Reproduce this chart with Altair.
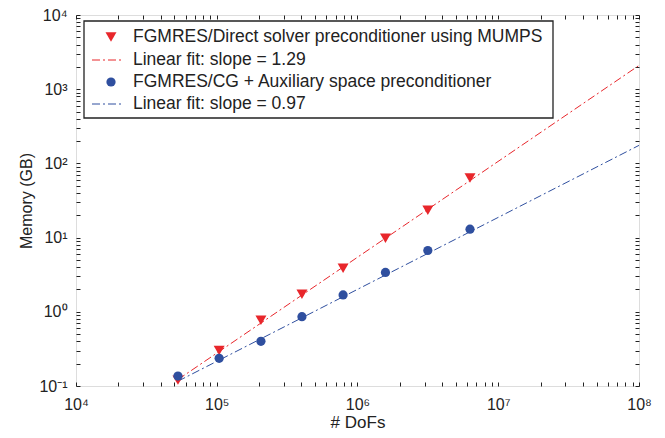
import altair as alt
import pandas as pd

# ---- data ----
dofs = [5.3e4, 1.04e5, 2.06e5, 4.03e5, 7.9e5, 1.58e6, 3.16e6, 6.3e6]
mem_direct = [0.12, 0.30, 0.77, 1.73, 3.87, 9.8, 23.4, 63.5]
mem_ams = [0.136, 0.236, 0.40, 0.86, 1.69, 3.39, 6.7, 13.0]
fit_x = [5.3e4, 1e8]
fit_direct = [0.122, 2090]
fit_ams = [0.116, 175]

series_labels = [
    "FGMRES/Direct solver preconditioner using MUMPS",
    "Linear fit: slope = 1.29",
    "FGMRES/CG + Auxiliary space preconditioner",
    "Linear fit: slope = 0.97",
]
x_ticks = [1e4, 1e5, 1e6, 1e7, 1e8]
x_tick_labels = ["10⁴", "10⁵", "10⁶", "10⁷", "10⁸"]
y_ticks = [0.1, 1, 10, 100, 1000, 10000]
y_tick_labels = ["10⁻¹", "10⁰", "10¹", "10²", "10³", "10⁴"]

RED = "#e8262b"
BLUE = "#2f4f9f"
INK = "#222222"
FONT = "Liberation Sans"
W, H = 563, 371
DASH = [8, 3, 2, 3]

df_direct = pd.DataFrame({"x": dofs, "y": mem_direct})
df_ams = pd.DataFrame({"x": dofs, "y": mem_ams})
df_fit_direct = pd.DataFrame({"x": fit_x, "y": fit_direct})
df_fit_ams = pd.DataFrame({"x": fit_x, "y": fit_ams})

def label_expr(vals, labs):
    expr = "''"
    for v, l in zip(reversed(vals), reversed(labs)):
        expr = f"abs(datum.value - {v!r}) < {v * 1e-6!r} ? '{l}' : ({expr})"
    return expr

xscale = alt.Scale(type="log", domain=[1e4, 1e8], nice=False)
yscale = alt.Scale(type="log", domain=[0.1, 1e4], nice=False)

main_x = alt.Axis(orient="bottom", values=x_ticks, labelExpr=label_expr(x_ticks, x_tick_labels),
                  labelFlush=False, ticks=False, domain=False, grid=False,
                  labelFont=FONT, labelFontSize=16, labelColor=INK, labelPadding=10,
                  title="# DoFs", titleFont=FONT, titleFontSize=17,
                  titleFontWeight="normal", titleColor=INK,
                  titleBaseline="alphabetic", titleY=41)
main_y = alt.Axis(orient="left", values=y_ticks, labelExpr=label_expr(y_ticks, y_tick_labels),
                  labelFlush=False, ticks=False, domain=False, grid=False,
                  labelFont=FONT, labelFontSize=16, labelColor=INK, labelPadding=9,
                  title="Memory (GB)", titleFont=FONT, titleFontSize=16,
                  titleFontWeight="normal", titleColor=INK,
                  titleBaseline="alphabetic", titleX=-45)

def tick_axis(orient, offset):
    # an axis moved across the plot so that its ticks point inward
    return alt.Axis(orient=orient, offset=offset, labels=False, title=None,
                    domain=False, grid=False, tickSize=4, tickCount=30,
                    tickColor=INK, tickWidth=1)

fit_r = alt.Chart(df_fit_direct).mark_line(color=RED, strokeWidth=1, strokeDash=DASH).encode(
    x=alt.X("x:Q", scale=xscale, axis=main_x),
    y=alt.Y("y:Q", scale=yscale, axis=main_y))
fit_b = alt.Chart(df_fit_ams).mark_line(color=BLUE, strokeWidth=1, strokeDash=DASH).encode(
    x=alt.X("x:Q", scale=xscale, axis=tick_axis("top", -H)),
    y=alt.Y("y:Q", scale=yscale, axis=tick_axis("right", -W)))
pts_r = alt.Chart(df_direct).mark_point(shape="triangle-down", filled=True, size=120,
                                        color=RED, opacity=1).encode(
    x=alt.X("x:Q", scale=xscale, axis=tick_axis("bottom", -H)),
    y=alt.Y("y:Q", scale=yscale, axis=tick_axis("left", -W)))
pts_b = alt.Chart(df_ams).mark_point(shape="circle", filled=True, size=85,
                                     color=BLUE, opacity=1).encode(
    x=alt.X("x:Q", scale=xscale, axis=None),
    y=alt.Y("y:Q", scale=yscale, axis=None))

# ---- legend box (layout in plot-area pixels) ----
lg_df = pd.DataFrame({"label": series_labels})
row_y = [22, 45, 67, 89]
sym_x, line_x0, line_x1, text_x = 35, 16, 47, 57

box = alt.Chart(lg_df).transform_filter(alt.datum.label == series_labels[0]).mark_rect(
    fill="white", stroke=INK, strokeWidth=1.3
).encode(x=alt.value(8), x2=alt.value(477), y=alt.value(6), y2=alt.value(103))

legend_layers = [box]
for i, lab in enumerate(series_labels):
    one = alt.Chart(lg_df).transform_filter(alt.datum.label == lab)
    legend_layers.append(
        one.mark_text(align="left", baseline="middle", font=FONT, fontSize=17.5, color=INK)
        .encode(x=alt.value(text_x), y=alt.value(row_y[i]), text="label:N"))
    colr = RED if i < 2 else BLUE
    if i % 2 == 0:
        legend_layers.append(
            one.mark_point(shape="triangle-down" if i == 0 else "circle", filled=True,
                           size=120 if i == 0 else 85, color=colr, opacity=1)
            .encode(x=alt.value(sym_x), y=alt.value(row_y[i])))
    else:
        legend_layers.append(
            one.mark_rule(color=colr, strokeWidth=1, strokeDash=DASH)
            .encode(x=alt.value(line_x0), x2=alt.value(line_x1), y=alt.value(row_y[i])))

chart = alt.layer(fit_r, fit_b, pts_r, pts_b, *legend_layers).resolve_axis(
    x="independent", y="independent"
).properties(
    width=W, height=H,
    autosize=alt.AutoSizeParams(type="none"),
    padding={"left": 68, "top": 7, "right": 18, "bottom": 44},
).configure_view(stroke=INK, strokeWidth=1.3).configure(background="white")

chart.save("out.html", embed_options={"renderer": "svg", "actions": False})
